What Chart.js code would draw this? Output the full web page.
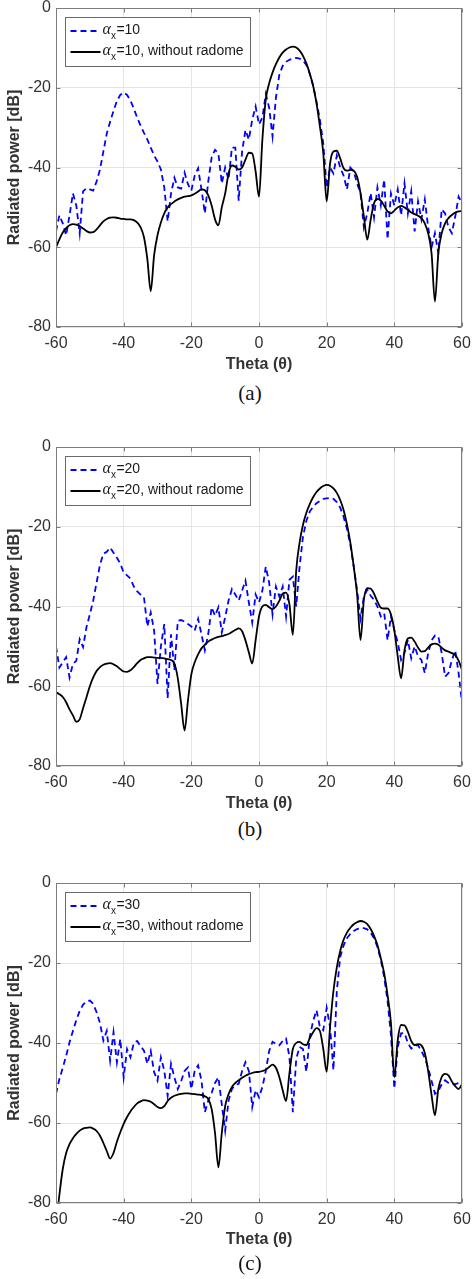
<!DOCTYPE html>
<html>
<head>
<meta charset="utf-8">
<script src="https://cdn.jsdelivr.net/npm/chart.js@4.4.1/dist/chart.umd.min.js"></script>
<style>
  body { margin: 0; background: #fff; }
  #wrap { position: relative; width: 472px; height: 1279px; }
  canvas { position: absolute; left: 0; }
  .cap { position: absolute; left: 250px; transform: translateX(-50%); font-family: "Liberation Serif", serif; font-size: 21px; line-height: 21px; color: #111; }
</style>
</head>
<body>
<div id="wrap">
  <canvas id="chartA" width="472" height="377" style="top:0px"></canvas>
  <div class="cap" style="top:383px">(a)</div>
  <canvas id="chartB" width="472" height="377" style="top:439px"></canvas>
  <div class="cap" style="top:819px">(b)</div>
  <canvas id="chartC" width="472" height="378" style="top:875px"></canvas>
  <div class="cap" style="top:1253px">(c)</div>
</div>
<script>
// theta in degrees, one sample per degree
var theta = [-60,-59,-58,-57,-56,-55,-54,-53,-52,-51,
  -50,-49,-48,-47,-46,-45,-44,-43,-42,-41,
  -40,-39,-38,-37,-36,-35,-34,-33,-32,-31,
  -30,-29,-28,-27,-26,-25,-24,-23,-22,-21,
  -20,-19,-18,-17,-16,-15,-14,-13,-12,-11,
  -10,-9,-8,-7,-6,-5,-4,-3,-2,-1,
  0,1,2,3,4,5,6,7,8,9,
  10,11,12,13,14,15,16,17,18,19,
  20,21,22,23,24,25,26,27,28,29,
  30,31,32,33,34,35,36,37,38,39,
  40,41,42,43,44,45,46,47,48,49,
  50,51,52,53,54,55,56,57,58,59,
  60];

var xTicks = [-60, -40, -20, 0, 20, 40, 60];
var yTicks = [-80, -60, -40, -20, 0];

// (a) alpha_x = 10
var blueA = [-56,-52,-54,-57,-52,-46.5,-49.5,-56.5,-46,-45.2,
  -45.5,-45.8,-43.5,-40.5,-36,-31.5,-28.5,-25.8,-23.3,-21.8,
  -21.2,-21.8,-23.2,-25.2,-27.5,-29.5,-31.3,-33,-35,-37,
  -38.5,-40.5,-45,-53.5,-46.5,-42.6,-45,-45.3,-41.3,-44.2,
  -45.8,-42,-40.2,-45.5,-51.5,-43.5,-37.5,-35.6,-36.5,-44,
  -40,-43,-35,-35,-48.3,-36,-30.6,-33,-28,-24.7,
  -29.2,-27.5,-21.6,-25,-32.2,-22.5,-16.8,-14.5,-13.5,-13,
  -12.7,-12.5,-12.7,-13.2,-14.3,-16.5,-19.5,-23.5,-28,-34,
  -45,-40,-41.5,-37,-40,-42,-45.5,-40,-41,-44,
  -46.4,-55,-51.5,-46.4,-52.5,-45,-49.5,-43,-58,-46.5,
  -49.5,-45.5,-52,-44,-51.5,-46,-56,-48.5,-53,-48,
  -55,-60,-56.5,-61.5,-50.5,-51.5,-55,-56.5,-52.3,-47.3,
  -49];
var blackA = [-60,-58,-56.3,-55.2,-54.5,-54.2,-54.3,-54.7,-55.3,-55.9,
  -56.3,-56.2,-55.5,-54.5,-53.5,-52.9,-52.6,-52.5,-52.6,-52.8,
  -52.9,-53,-53,-53.2,-53.8,-55,-57.5,-63,-71,-62,
  -57,-53.8,-51.5,-50,-49.2,-48.5,-48,-47.6,-47.3,-47.2,
  -47,-46.6,-46,-45.5,-45.7,-47,-49.5,-53,-54.5,-50,
  -46.5,-41.5,-39.5,-39.8,-40.5,-40,-38,-36.3,-36.5,-41,
  -47.3,-33,-23,-18.9,-16.2,-14.1,-12.4,-11.2,-10.4,-9.9,
  -9.7,-9.9,-10.7,-12,-13.9,-16.4,-19.5,-23.9,-29.7,-36.4,
  -48.5,-39,-36,-35.8,-37.7,-40.2,-40.8,-40.6,-40.8,-42.3,
  -46.4,-52.3,-58.1,-53.1,-49,-47.9,-48.3,-49.6,-51,-51.5,
  -50.8,-50,-49.6,-50,-50.6,-51.3,-51.7,-52.1,-52.7,-54,
  -56.5,-61.5,-73.6,-61.5,-56.5,-54,-52.7,-51.9,-51.3,-51,
  -50.9];

// (b) alpha_x = 20
var blueB = [-50,-55.3,-54,-52.7,-57.8,-54.4,-53.6,-48.2,-50.2,-45.2,
  -42,-38.5,-34,-29.5,-26.8,-26.3,-25.2,-26.5,-27.8,-29.2,
  -31.5,-32.2,-33,-35,-36.2,-37,-37.7,-45,-41.5,-46,
  -59.4,-50,-44.4,-63,-47,-56,-43.6,-43.4,-43.8,-44.4,
  -45,-46,-43.1,-47,-51,-46.9,-40.2,-42.3,-40.2,-46.5,
  -42.7,-38.5,-35.6,-37,-38.5,-36,-33.5,-39,-44,-37,
  -39,-36,-30,-34,-42,-35,-37.5,-35,-42.5,-33.3,
  -32.5,-40,-30,-22.5,-18.5,-16.2,-15,-14.1,-13.5,-13,
  -12.9,-12.8,-13,-13.8,-15.2,-17.5,-20.5,-24.5,-30,-36,
  -43,-37.5,-35.8,-37.3,-38.3,-40,-42.5,-41.7,-48.4,-42.5,
  -45.9,-49,-53.4,-51.7,-48.4,-53,-50,-52.5,-53.4,-56.7,
  -51.7,-48.5,-47.3,-47.5,-51.7,-57.6,-56.7,-53.5,-51,-56.7,
  -64.2];
var blackB = [-61.5,-62,-62.7,-64,-65.8,-67.3,-68.9,-68.3,-65.5,-62.8,
  -60,-57.8,-56.2,-55.2,-54.6,-54.3,-54.2,-54.5,-55,-55.7,
  -56.3,-56.4,-56,-55.2,-54.2,-53.4,-53,-52.7,-52.7,-52.8,
  -52.9,-52.9,-53,-53.2,-53.4,-54.3,-58,-64.5,-71.1,-63.6,
  -57,-54,-52,-50.5,-49.6,-48.8,-48.3,-47.9,-47.6,-47.4,
  -47.2,-46.9,-46.4,-45.9,-45.5,-46.2,-48.5,-51.5,-54.3,-48.5,
  -42.5,-40,-39.6,-40.2,-40.7,-40,-38.6,-36.8,-36.5,-39.5,
  -47.1,-31,-24,-19.5,-16.5,-14.3,-12.6,-11.3,-10.4,-9.8,
  -9.5,-9.7,-10.4,-11.5,-13.3,-15.8,-19.4,-24,-30,-37,
  -48.4,-38.3,-35.4,-35.5,-36.8,-38.8,-40.3,-40.5,-40.5,-42,
  -46,-52.5,-58,-51,-48,-47.8,-48.8,-50.3,-51.3,-51.2,
  -50.3,-49.5,-49.3,-49.6,-50.3,-51,-51.3,-51.7,-52.2,-53.6,
  -55.9];

// (c) alpha_x = 30
var blueC = [-52.7,-49,-46.2,-43.2,-39.8,-37,-34.3,-32,-30.4,-29.6,
  -29.4,-30.2,-32.3,-35,-39.4,-37,-44.4,-37.3,-44.8,-39,
  -48.6,-41.5,-43.6,-40,-39.5,-40.8,-41.9,-45.2,-42,-47.3,
  -49.4,-43.6,-46.9,-53.2,-45.2,-48.6,-51.5,-49.5,-47,-46.1,
  -51.5,-46.9,-45.6,-49.4,-57.3,-54.4,-52.5,-50,-48.6,-55.3,
  -61.9,-54.4,-51.5,-50.5,-50.2,-47,-44.8,-47,-56,-51.8,
  -53.6,-51,-47,-42,-39.7,-40.2,-40.6,-39.5,-38.9,-43.5,
  -57.3,-44,-41,-41.5,-47.2,-38.5,-34.5,-31.8,-36,-36.8,
  -31.2,-36,-46.8,-27,-18.5,-15.6,-13.8,-12.7,-12,-11.5,
  -11.3,-11.3,-11.6,-12.4,-13.8,-16,-19.2,-23.5,-29.5,-38,
  -51.4,-41,-37.6,-37.5,-40,-41.4,-40.6,-40.6,-42,-43.7,
  -46.2,-49.5,-52.7,-52,-50.3,-49.3,-50,-50.3,-50.3,-50,
  -49.3];
var blackC = [-86,-78,-71.5,-67.5,-65.3,-63.8,-62.7,-61.9,-61.4,-61.2,
  -61.1,-61.4,-62,-63.2,-65,-67,-68.9,-67.5,-64.7,-62.3,
  -60.2,-58.5,-57.1,-56,-55.1,-54.6,-54.3,-54.4,-54.7,-55.3,
  -56,-56.3,-55.8,-54.5,-53.7,-53.2,-52.9,-52.7,-52.6,-52.6,
  -52.7,-52.8,-52.9,-53,-53.3,-54,-56.5,-62.5,-71.1,-62.5,
  -55.8,-52.8,-51,-50,-49.3,-48.7,-48.2,-47.8,-47.5,-47.3,
  -47.2,-47,-46.7,-46,-45.4,-46.2,-48.5,-51.8,-54.5,-47.5,
  -41.5,-40,-39.7,-40.3,-40.5,-38.8,-37.3,-36.3,-37,-41.5,
  -47.2,-36,-27,-21.1,-17,-14.2,-12.4,-11.2,-10.3,-9.8,
  -9.5,-9.7,-10.3,-11.5,-13.2,-15.5,-18.8,-22.6,-28,-35,
  -48.5,-39.3,-35.5,-35.6,-37.2,-39.5,-40.5,-40.3,-40.6,-42.5,
  -47,-53,-58.1,-51.5,-48.5,-47.7,-48.1,-49.6,-50.8,-51.5,
  -50.3];

function toPoints(xs, ys) {
  var out = [];
  for (var i = 0; i < xs.length; i++) out.push({x: xs[i], y: ys[i]});
  return out;
}

function legendRow(ctx, x, y, tail) {
  ctx.fillStyle = '#1a1a1a';
  ctx.textBaseline = 'alphabetic';
  ctx.textAlign = 'left';
  ctx.font = 'italic 16px "Liberation Serif"';
  ctx.fillText('α', x, y + 3);
  var w = ctx.measureText('α').width;
  ctx.font = '10px "Liberation Sans"';
  ctx.fillText('x', x + w, y + 8);
  var w2 = ctx.measureText('x').width;
  ctx.font = '14px "Liberation Sans"';
  ctx.fillText(tail, x + w + w2 + 0.5, y + 3);
}

// axes box, inward ticks and the legend, matlab style
var boxPlugin = {
  id: 'boxPlugin',
  afterDatasetsDraw: function(chart, args, opts) {
    var ctx = chart.ctx;
    var a = chart.chartArea;
    var xs = chart.scales.x, ys = chart.scales.y;
    var L = Math.round(a.left) + 0.5, T = Math.round(a.top) + 0.5;
    var R = Math.round(a.right) - 0.5, B = Math.round(a.bottom) - 0.5;
    ctx.save();
    ctx.strokeStyle = '#7d7d7d';
    ctx.lineWidth = 1;
    ctx.setLineDash([]);
    ctx.strokeRect(L, T, R - L, B - T);
    ctx.beginPath();
    xTicks.forEach(function(t) {
      var px = Math.round(xs.getPixelForValue(t)) + 0.5;
      ctx.moveTo(px, B); ctx.lineTo(px, B - 4);
      ctx.moveTo(px, T); ctx.lineTo(px, T + 4);
    });
    yTicks.forEach(function(t) {
      var py = Math.round(ys.getPixelForValue(t)) + 0.5;
      ctx.moveTo(L, py); ctx.lineTo(L + 4, py);
      ctx.moveTo(R, py); ctx.lineTo(R - 4, py);
    });
    ctx.stroke();

    // legend
    var bx = L + 9, by = T + 9, bw = 185, bh = 49;
    ctx.fillStyle = '#fff';
    ctx.fillRect(bx, by, bw, bh);
    ctx.strokeStyle = '#6a6a6a';
    ctx.strokeRect(bx, by, bw, bh);

    var r1 = by + 13.5, r2 = by + 34.5;
    ctx.lineWidth = 2;
    ctx.strokeStyle = '#0000ff';
    ctx.setLineDash([6, 4]);
    ctx.beginPath(); ctx.moveTo(bx + 5, r1); ctx.lineTo(bx + 35, r1); ctx.stroke();
    ctx.strokeStyle = '#000';
    ctx.setLineDash([]);
    ctx.beginPath(); ctx.moveTo(bx + 5, r2); ctx.lineTo(bx + 35, r2); ctx.stroke();

    legendRow(ctx, bx + 37, r1, '=' + opts.alpha);
    legendRow(ctx, bx + 37, r2, '=' + opts.alpha + ', without radome');
    ctx.restore();
  }
};

function makePanel(id, alpha, blue, black, titlePad) {
  var tickFont = {family: 'Liberation Sans', size: 16, lineHeight: 1};
  var titleFont = {family: 'Liberation Sans', size: 16, weight: 'bold', lineHeight: 1.2};
  return new Chart(document.getElementById(id), {
    type: 'line',
    data: {
      datasets: [{
        label: 'alpha_x=' + alpha,
        data: toPoints(theta, blue),
        borderColor: '#0000ff',
        borderWidth: 1.8,
        borderDash: [6, 4],
        pointRadius: 0,
        fill: false,
        tension: 0,
        order: 2
      }, {
        label: 'alpha_x=' + alpha + ', without radome',
        data: toPoints(theta, black),
        borderColor: '#000000',
        borderWidth: 1.8,
        pointRadius: 0,
        fill: false,
        cubicInterpolationMode: 'monotone',
        order: 1
      }]
    },
    options: {
      responsive: false,
      animation: false,
      devicePixelRatio: 1,
      layout: {padding: {top: 8, right: 10, left: 0, bottom: 0}},
      plugins: {
        legend: {display: false},
        tooltip: {enabled: false},
        boxPlugin: {alpha: alpha}
      },
      scales: {
        x: {
          type: 'linear',
          min: -60,
          max: 60,
          ticks: {stepSize: 20, padding: 9, color: '#333', font: tickFont, maxRotation: 0},
          grid: {color: '#e4e4e4', drawTicks: false},
          border: {display: false},
          title: {display: true, text: 'Theta (θ)', color: '#333', font: titleFont, padding: {top: 0, bottom: titlePad}},
          afterFit: function(s) { s.height = 50; s.paddingLeft = 0; s.paddingRight = 0; }
        },
        y: {
          min: -80,
          max: 0,
          ticks: {stepSize: 20, padding: 5, color: '#333', font: tickFont},
          grid: {color: '#e4e4e4', drawTicks: false},
          border: {display: false},
          title: {display: true, text: 'Radiated power [dB]', color: '#333', font: titleFont, padding: {top: 5.4, bottom: 0}},
          afterFit: function(s) { s.width = 56; s.paddingTop = 0; s.paddingBottom = 0; }
        }
      }
    },
    plugins: [boxPlugin]
  });
}

makePanel('chartA', '10', blueA, blackA, 3);
makePanel('chartB', '20', blueB, blackB, 3);
makePanel('chartC', '30', blueC, blackC, 4);
</script>
</body>
</html>
